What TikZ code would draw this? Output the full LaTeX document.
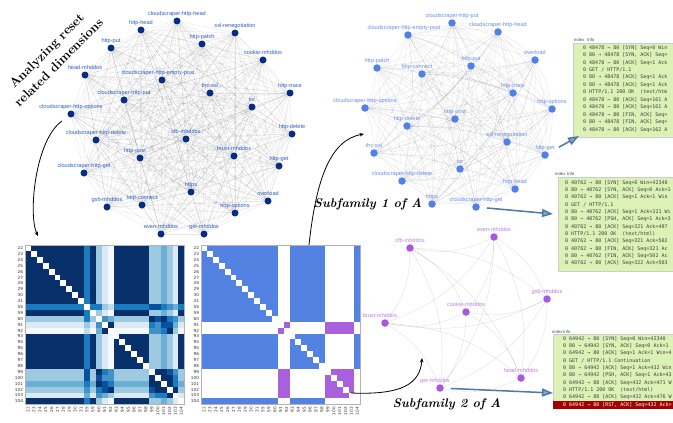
\documentclass[tikz,border=0pt]{standalone}
\usepackage{fontspec}
\newfontfamily\lblfont{Liberation Sans}
\newfontfamily\pktfont{DejaVu Sans Mono}
\newfontfamily\tickfont{DejaVu Sans}
\usetikzlibrary{arrows.meta,backgrounds}
\definecolor{navyA}{RGB}{6,44,132}
\definecolor{lblAc}{RGB}{45,95,195}
\definecolor{dotBc}{RGB}{80,128,232}
\definecolor{lblBc}{RGB}{105,142,236}
\definecolor{dotCc}{RGB}{168,88,222}
\definecolor{lblCc}{RGB}{192,125,236}
\definecolor{hmblue}{RGB}{84,130,226}
\definecolor{hmpurple}{RGB}{168,96,220}
\definecolor{b0}{HTML}{F4F9FE}
\definecolor{b1}{HTML}{DCE9F6}
\definecolor{b2}{HTML}{C6DBEF}
\definecolor{b3}{HTML}{9ECAE1}
\definecolor{b4}{HTML}{6BAED6}
\definecolor{b5}{HTML}{4292C6}
\definecolor{b6}{HTML}{1A7CC0}
\definecolor{b7}{HTML}{08519C}
\definecolor{b8}{HTML}{08306B}
\definecolor{pktgreen}{RGB}{220,241,182}
\definecolor{pktred}{RGB}{160,0,0}
\definecolor{arrline}{RGB}{78,120,165}
\definecolor{arrfill}{RGB}{125,170,215}
\tikzset{
  dotA/.style={circle,fill=navyA,minimum size=7pt,inner sep=0pt,label distance=2.5pt},
  dotB/.style={circle,fill=dotBc,minimum size=7.5pt,inner sep=0pt,label distance=2.5pt},
  dotC/.style={circle,fill=dotCc,minimum size=7.5pt,inner sep=0pt,label distance=2.5pt},
  lblbase/.style={font=\lblfont\fontsize{5.6}{6}\selectfont,inner sep=0.5pt,text height=4pt,text depth=1pt},
  lblA/.style={lblbase,text=lblAc},
  lblB/.style={lblbase,text=lblBc},
  lblC/.style={lblbase,text=lblCc},
  edgeA/.style={draw=black,opacity=0.1,line width=0.35pt},
  edgeB/.style={draw=black,opacity=0.1,line width=0.35pt},
  edgeC/.style={draw=black,opacity=0.12,line width=0.4pt},
  tick/.style={font=\tickfont\fontsize{4.2}{4.5}\selectfont,text=black!80,inner sep=0.3pt},
  blk/.style={draw=black,line width=0.8pt,-{Stealth[length=4.5pt,width=3.6pt]}},
  bluearr/.style={draw=arrline,line width=1.5pt,-{Triangle[length=11pt,width=8pt,fill=arrfill]}},
  pkt/.style={font=\pktfont\fontsize{5}{6}\selectfont,text=black!75,inner sep=0pt,anchor=base west},
  hdr/.style={font=\lblfont\fontsize{4.3}{5}\selectfont,text=black!70,inner sep=0pt,anchor=base west},
  title/.style={font=\fontsize{13}{17}\selectfont\bfseries,align=center},
  subf/.style={font=\fontsize{12.5}{14}\selectfont\bfseries\itshape},
}
\begin{document}
\begin{tikzpicture}[x=1pt,y=-1pt]
\useasboundingbox (0,0) rectangle (673,423);
\begin{scope}[on background layer]\fill[white] (0,0) rectangle (673,423);\end{scope}
\begin{scope}
\clip (0,0) rectangle (673,423);

% ---------- graph of all (top-left)
\foreach \n/\x/\y/\s/\t in {
a1/177/21/0/cloudscraper-http-head,
a2/141/30/0/http-head,
a3/235/33/0/ssl-renegotiation,
a4/111/48/0/http-put,
a5/202/44/0/http-patch,
a6/263/60/0/cookie-mhddos,
a7/85/75/0/head-mhddos,
a8/162/80/-4/cloudscraper-http-empty-post,
a9/210/93/0/thc-ssl,
a10/290/93/0/http-trace,
a11/124/100/0/cloudscraper-http-put,
a12/252/107/0/tor,
a13/71/114/0/cloudscraper-http-options,
a14/292/134/0/http-delete,
a15/186/139/0/cfb-mhddos,
a16/96/140/0/cloudscraper-http-delete,
a17/140/158/-5/http-post,
a18/234/156/0/brust-mhddos,
a19/279/166/0/http-get,
a20/84/173/0/cloudscraper-http-get,
a21/191/192/0/https,
a22/107/207/0/gsb-mhddos,
a23/142/205/0/http-connect,
a24/268/201/0/overload,
a25/235/213/0/http-options,
a26/161/234/0/even-mhddos,
a27/204/234/0/get-mhddos}
  \node[dotA,label={[lblA,xshift=\s pt]above:\t}] (\n) at (\x,\y) {};
\begin{scope}[on background layer]
\foreach \i in {1,...,27}{\foreach \j in {1,...,27}{\ifnum\i<\j \draw[edgeA] (a\i) -- (a\j);\fi}}
\end{scope}

% ---------- subfamily 1 graph
\foreach \n/\x/\y/\s/\t in {
b1/452/23/0/cloudscraper-http-put,
b2/408/35/-4/cloudscraper-http-empty-post,
b3/498/32/0/cloudscraper-http-head,
b4/535/60/0/overload,
b5/377/68/0/http-patch,
b6/422/74/-5/http-connect,
b7/471/66/0/http-put,
b8/513/93/0/http-trace,
b9/552/109/0/http-options,
b10/365/108/0/cloudscraper-http-options,
b11/455/119/0/http-post,
b12/407/126/0/http-delete,
b13/507/142/0/ssl-renegotiation,
b14/374/153/0/thc-ssl,
b15/545/155/0/http-get,
b16/460/169/0/tor,
b17/402/181/0/cloudscraper-http-delete,
b18/515/189/0/http-head,
b19/432/204/0/https,
b20/476/207/0/cloudscraper-http-get}
  \node[dotB,label={[lblB,xshift=\s pt]above:\t}] (\n) at (\x,\y) {};
\begin{scope}[on background layer]
\foreach \i in {1,...,20}{\foreach \j in {1,...,20}{\ifnum\i<\j \draw[edgeB] (b\i) to[bend left=10] (b\j);\fi}}
\end{scope}

% ---------- subfamily 2 graph
\foreach \n/\x/\y/\s/\t in {
c1/494/237/0/even-mhddos,
c2/410/248/0/cfb-mhddos,
c3/547/299/0/gsb-mhddos,
c4/466/312/0/cookie-mhddos,
c5/385/323/-5/brust-mhddos,
c6/521/378/0/head-mhddos,
c7/440/388/-5/get-mhddos}
  \node[dotC,label={[lblC,xshift=\s pt]above:\t}] (\n) at (\x,\y) {};
\begin{scope}[on background layer]
\foreach \i in {1,...,7}{\foreach \j in {1,...,7}{\ifnum\i<\j \draw[edgeC] (c\i) to[bend left=18] (c\j);\fi}}
\end{scope}

% ---------- heatmaps
\def\hw{5.9}
\def\typelist{{0,0,0,0,0,0,0,0,0,0,1,0,2,3,4,0,0,0,0,0,0,5,6,7,8,9,0}}
\def\lvltab{{8,6,3,1,0,3,3,4,3,1, 6,8,6,3,2,7,7,6,5,4, 3,6,8,5,4,8,7,8,6,5, 1,3,5,8,8,6,5,7,7,4, 0,2,4,8,8,5,5,6,8,3, 3,7,8,6,5,8,8,8,7,5, 3,7,7,5,5,8,8,8,8,6, 4,6,8,7,6,8,8,8,8,6, 3,5,6,7,8,7,8,8,8,8, 1,4,5,4,3,5,6,6,8,8}}
\foreach \i in {0,...,26}{
  \pgfmathtruncatemacro\ti{\typelist[\i]}
  \pgfmathtruncatemacro\ci{(\ti<3)?1:2}
  \foreach \j in {0,...,26}{
    \pgfmathtruncatemacro\tj{\typelist[\j]}
    \pgfmathtruncatemacro\cj{(\tj<3)?1:2}
    \pgfmathtruncatemacro\L{\lvltab[\ti*10+\tj]}
    \ifnum\i=\j \def\cc{white}\else\edef\cc{b\L}\fi
    \fill[fill=\cc] ({25+\j*\hw},{245+\i*\hw}) rectangle ++({\hw+0.2},{\hw+0.2});
    \def\cd{white}
    \ifnum\i=\j\else\ifnum\ci=\cj\ifnum\ci=1 \def\cd{hmblue}\else\def\cd{hmpurple}\fi\fi\fi
    \fill[fill=\cd] ({201+\j*\hw},{245+\i*\hw}) rectangle ++({\hw+0.2},{\hw+0.2});
  }
}
\draw[black!30,line width=0.3pt] (25,245) rectangle ++({27*\hw},{27*\hw});
\draw[black!30,line width=0.3pt] (201,245) rectangle ++({27*\hw},{27*\hw});
\foreach \lab [count=\i from 0] in {22,23,24,25,26,27,28,29,30,31,55,59,60,91,92,93,94,95,96,97,98,99,100,101,102,103,104}{
  \node[tick,anchor=east] (ra\i) at (23.5,{245+(\i+0.5)*\hw}) {\lab};
  \node[tick,anchor=east] (rb\i) at (199.5,{245+(\i+0.5)*\hw}) {\lab};
  \node[tick,rotate=90,anchor=east] (ca\i) at ({25+(\i+0.5)*\hw},406.5) {\lab};
  \node[tick,rotate=90,anchor=east] (cb\i) at ({201+(\i+0.5)*\hw},406.5) {\lab};
}

% ---------- texts
\node[title,rotate=45] (ttl) at (52.5,56.5) {Analyzing reset\\related dimensions};
\node[subf] (sf1) at (368,204) {Subfamily 1 of A};
\node[subf] (sf2) at (447,404) {Subfamily 2 of A};

% ---------- black arrows
\coordinate (s1) at (62,121);
\coordinate (e1) at (38,236);
\coordinate (s2) at (309,245);
\coordinate (e2) at (364,134);
\coordinate (s3) at (351,393);
\coordinate (e3) at (422,358);
\draw[blk] (s1) .. controls (35,140) and (28,215) .. (e1);
\draw[blk] (s2) .. controls (316,180) and (330,140) .. (e2);
\draw[blk] (s3) .. controls (400,395) and (420,385) .. (e3);

% ---------- packet tables
\fill[pktgreen,draw=black!20,line width=0.3pt] (573,43) rectangle (676,137);
\node[hdr] (h1a) at (574,41.5) {index};
\node[hdr] (h1b) at (587,41.5) {Info};
\foreach \t [count=\k from 0] in {
{0 48478 → 80 [SYN] Seq=0 Win},
{0 80 → 48478 [SYN, ACK] Seq=},
{0 48478 → 80 [ACK] Seq=1 Ack},
{0 GET / HTTP/1.1},
{0 80 → 48478 [ACK] Seq=1 Ack},
{0 80 → 48478 [ACK] Seq=1 Ack},
{0 HTTP/1.1 200 OK~~(text/htm},
{0 48478 → 80 [ACK] Seq=161 A},
{0 48478 → 80 [ACK] Seq=161 A},
{0 48478 → 80 [FIN, ACK] Seq=},
{0 80 → 48478 [FIN, ACK] Seq=},
{0 48478 → 80 [ACK] Seq=162 A}}
  \node[pkt] (p1r\k) at (583,{49.1+7.45*\k}) {\t};

\fill[pktgreen,draw=black!20,line width=0.3pt] (558,177.5) rectangle (676,271);
\node[hdr] (h2a) at (555,175.8) {index};
\node[hdr] (h2b) at (567,175.8) {Info};
\foreach \t [count=\k from 0] in {
{0 40762 → 80 [SYN] Seq=0 Win=42340},
{0 80 → 40762 [SYN, ACK] Seq=0 Ack=1},
{0 40762 → 80 [ACK] Seq=1 Ack=1 Win},
{0 GET / HTTP/1.1},
{0 80 → 40762 [ACK] Seq=1 Ack=321 Wi},
{0 80 → 40762 [PSH, ACK] Seq=1 Ack=3},
{0 40762 → 80 [ACK] Seq=321 Ack=497},
{0 HTTP/1.1 200 OK~~(text/html)},
{0 40762 → 80 [ACK] Seq=321 Ack=502},
{0 40762 → 80 [FIN, ACK] Seq=321 Ac},
{0 80 → 40762 [FIN, ACK] Seq=502 Ac},
{0 40762 → 80 [ACK] Seq=322 Ack=503}}
  \node[pkt] (p2r\k) at (565,{184.1+7.35*\k}) {\t};

\fill[pktgreen,draw=black!20,line width=0.3pt] (553,334) rectangle (676,401);
\fill[pktred] (553,401) rectangle (676,408.5);
\node[hdr] (h3a) at (552,333.2) {index};
\node[hdr] (h3b) at (563,333.2) {Info};
\foreach \t [count=\k from 0] in {
{0 64942 → 80 [SYN] Seq=0 Win=42340},
{0 80 → 64942 [SYN, ACK] Seq=0 Ack=1},
{0 64942 → 80 [ACK] Seq=1 Ack=1 Win=4},
{0 GET / HTTP/1.1 Continuation},
{0 80 → 64942 [ACK] Seq=1 Ack=432 Win},
{0 80 → 64942 [PSH, ACK] Seq=1 Ack=43},
{0 64942 → 80 [ACK] Seq=432 Ack=471 W},
{0 HTTP/1.1 200 OK~~(text/html)},
{0 64942 → 80 [ACK] Seq=432 Ack=476 W}}
  \node[pkt] (p3r\k) at (563,{340.1+7.33*\k}) {\t};
\node[pkt,text=white] (p3r9) at (563,{340.1+7.33*9}) {0 64942 → 80 [RST, ACK] Seq=432 Ack=};

% ---------- blue arrows
\coordinate (t1in) at (579,136);
\coordinate (t2in) at (553,214);
\coordinate (t3in) at (553,393);
\draw[bluearr,shorten <=12pt] (b15) -- (t1in);
\draw[bluearr,shorten <=7pt] (b20) -- (t2in);
\draw[bluearr,shorten <=7pt] (c7) -- (t3in);
\end{scope}
\end{tikzpicture}
\end{document}
